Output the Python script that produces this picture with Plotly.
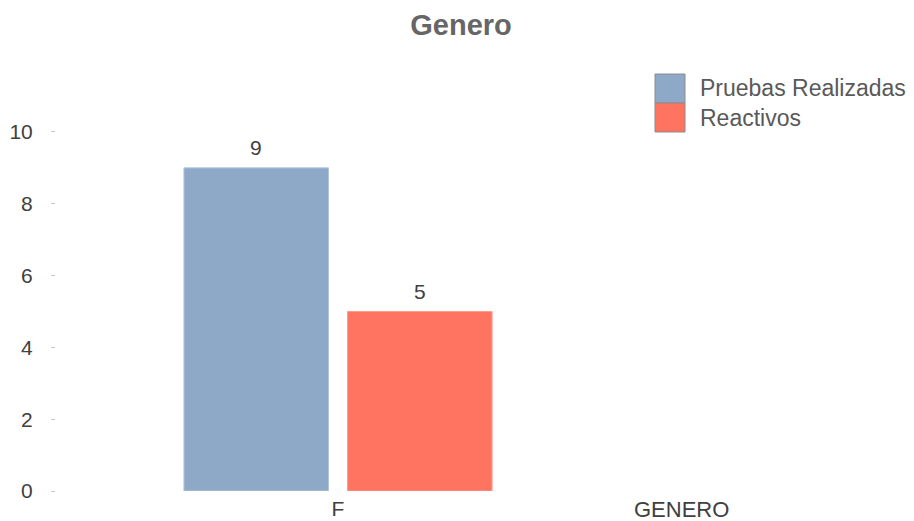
import plotly.graph_objects as go

# Data
categories = ["F"]
series_names = ["Pruebas Realizadas", "Reactivos"]
pruebas_realizadas = [9]
reactivos = [5]
y_ticks = [0, 2, 4, 6, 8, 10]

colors = ["#8EA9C8", "#FF7361"]
edge_colors = ["#B4C6DA", "#FF9C8F"]
font_family = "Liberation Sans, Arial, sans-serif"

W, H = 914, 521
PL, PR, PT, PB = 56, 620, 114, 491  # plot area in pixels


def px_x(x):
    return (x - PL) / (PR - PL)


def px_y(y):
    return (PB - y) / (PB - PT)


fig = go.Figure()
series_values = [pruebas_realizadas, reactivos]
for name, vals, col, edge in zip(series_names, series_values, colors, edge_colors):
    fig.add_trace(go.Bar(
        x=categories, y=vals, name=name,
        marker=dict(color=col, line=dict(color=edge, width=1)),
        showlegend=False,
    ))

# Value labels above each bar (half a bar slot left/right of the category centre)
slot_px = 82
for i, vals in enumerate(series_values):
    for cat, v in zip(categories, vals):
        fig.add_annotation(x=cat, y=v, xshift=(-1 if i == 0 else 1) * slot_px, yshift=20,
                           text=str(v), showarrow=False, yanchor="middle",
                           font=dict(size=21, color="#404040", family=font_family))

# Legend drawn as large stacked swatches in the right margin
legend_x0, legend_x1 = 655, 685
legend_top, row_h = 74, 29
for i, (name, col) in enumerate(zip(series_names, colors)):
    y0 = legend_top + i * row_h
    fig.add_shape(type="rect", xref="paper", yref="paper",
                  x0=px_x(legend_x0), x1=px_x(legend_x1),
                  y0=px_y(y0), y1=px_y(y0 + row_h),
                  fillcolor=col, line=dict(color="#8C8C8C", width=1))
    fig.add_annotation(xref="paper", yref="paper",
                       x=px_x(698), y=px_y(y0 + row_h / 2),
                       xanchor="left", yanchor="middle", showarrow=False,
                       text=name, font=dict(size=23, color="#595959", family=font_family))

# Axis title placed to the lower right
fig.add_annotation(xref="paper", yref="paper", x=px_x(681), y=px_y(510),
                   xanchor="center", yanchor="middle", showarrow=False,
                   text="GENERO", font=dict(size=22, color="#404040", family=font_family))

fig.update_layout(
    width=W, height=H,
    margin=dict(l=PL, r=W - PR, t=PT, b=H - PB, autoexpand=False),
    paper_bgcolor="white", plot_bgcolor="white",
    title=dict(text="<b>Genero</b>", x=461 / W, xanchor="center", y=1 - 25 / H, yanchor="middle",
               font=dict(size=29, color="#666666", family=font_family)),
    barmode="group", bargap=0.42, bargroupgap=0.116,
    xaxis=dict(showgrid=False, showline=False, zeroline=False, ticks="", automargin=False,
               tickfont=dict(size=21, color="#404040", family=font_family), ticklabelstandoff=3),
    yaxis=dict(range=[0, 10.5], tickvals=y_ticks, showgrid=False, showline=False, zeroline=False,
               automargin=False,
               ticks="outside", ticklen=4, tickcolor="#C8C8C8", tickwidth=1, ticklabelstandoff=14,
               tickfont=dict(size=21, color="#404040", family=font_family)),
)

fig.write_html("out.html")
